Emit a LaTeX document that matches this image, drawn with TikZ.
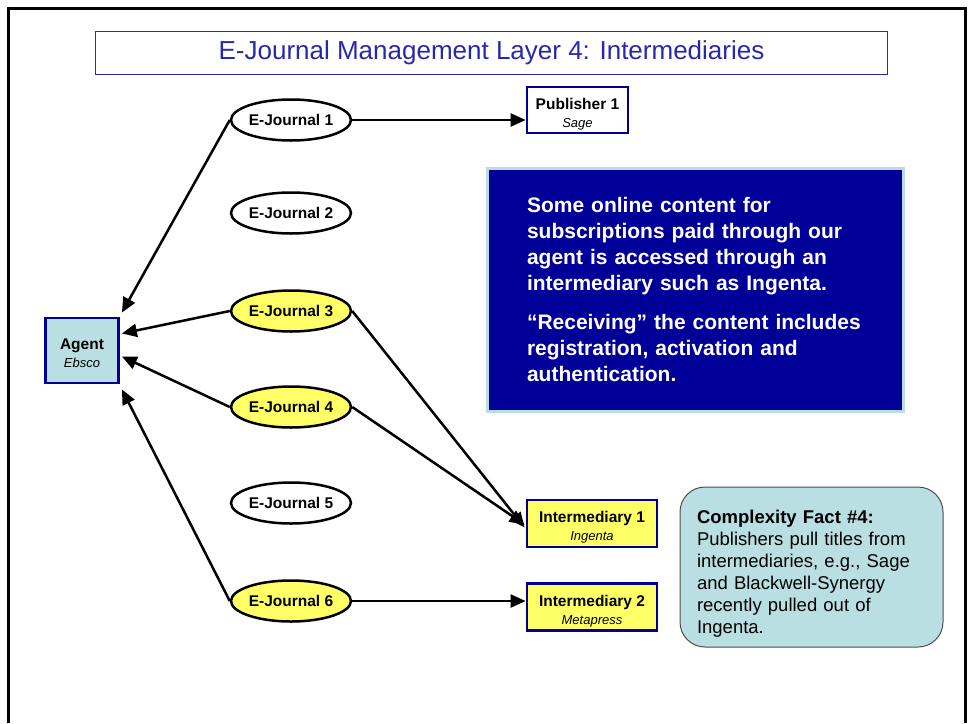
\documentclass[tikz,border=0pt]{standalone}
\usepackage{fontspec}
\setmainfont{Liberation Sans}
\usepackage{xcolor}
\usepackage{tikz}
\usetikzlibrary{shapes.geometric,arrows.meta}

\definecolor{titleblue}{RGB}{40,40,170}
\definecolor{boxblue}{RGB}{0,0,153}
\definecolor{paleblue}{RGB}{185,223,227}
\definecolor{paleyellow}{RGB}{255,255,102}

\newcommand{\firm}[1]{\\[0pt]{\fontsize{13}{15}\selectfont\mdseries\itshape #1}}

\begin{document}
\begin{tikzpicture}[x=1pt,y=-1pt,
    journal/.style={draw,ellipse,line width=2.5pt,minimum width=120pt,minimum height=41pt,inner sep=0pt,
      font=\fontsize{15.5}{18}\selectfont\bfseries},
    site/.style={draw=boxblue,rectangle,line width=2.8pt,inner sep=0pt,align=center,
      font=\fontsize{15.5}{18}\selectfont\bfseries},
    feed/.style={line width=2.5pt,-{Triangle[length=15pt,width=13pt]}}]
    \useasboundingbox (0,0) rectangle (969,723);
    \draw[line width=3pt] (8,723) -- (8,8) -- (965,8) -- (965,723);
    \node[draw=titleblue,line width=1pt,minimum width=792pt,minimum height=43pt,text=titleblue,
      font=\fontsize{26}{30}\selectfont] (title) at (491.5,52.5) {E-Journal Management Layer 4: Intermediaries};

    \node[journal] (j1) at (291,120) {E-Journal 1};
    \node[journal] (j2) at (291,213) {E-Journal 2};
    \node[journal,fill=paleyellow] (j3) at (291,311) {E-Journal 3};
    \node[journal,fill=paleyellow] (j4) at (291,407) {E-Journal 4};
    \node[journal] (j5) at (291,503) {E-Journal 5};
    \node[journal,fill=paleyellow] (j6) at (291,601) {E-Journal 6};

    \node[site,fill=paleblue,minimum width=73pt,minimum height=65pt] (agent) at (82,350.5)
      {\rule{0pt}{17pt}Agent\firm{Ebsco}};
    \node[site,fill=white,minimum width=101pt,minimum height=46pt] (pub1) at (577.5,110)
      {\rule{0pt}{19pt}Publisher 1\firm{Sage}};
    \node[site,fill=paleyellow,minimum width=130pt,minimum height=47pt] (int1) at (592,523.5)
      {\rule{0pt}{19pt}Intermediary 1\firm{Ingenta}};
    \node[site,fill=paleyellow,minimum width=130pt,minimum height=47pt] (int2) at (592,607)
      {\rule{0pt}{19pt}Intermediary 2\firm{Metapress}};

    \node[draw=paleblue,fill=boxblue,line width=3pt,minimum width=416pt,minimum height=243pt,
      text=white,text width=336pt,align=left,inner xsep=40pt,
      font=\fontsize{21}{26}\selectfont\bfseries] (note) at (695,289.5)
      {Some online content for\\subscriptions paid through our\\agent is accessed through an\\intermediary such as Ingenta.\\[13pt]
       ``Receiving'' the content includes\\registration, activation and\\authentication.};
    \node[draw=black!70,fill=paleblue,line width=1pt,rounded corners=25pt,minimum width=263pt,minimum height=160pt,
      text width=229pt,align=left,inner xsep=17pt,font=\fontsize{18.5}{22}\selectfont] (fact) at (811.5,567)
      {\rule{0pt}{27pt}\textbf{Complexity Fact \#4:}\\Publishers pull titles from\\intermediaries, e.g., Sage\\and Blackwell-Synergy\\recently pulled out of\\Ingenta.};

    \draw[feed] (j1.east) -- (j1.east -| pub1.west);
    \draw[feed] (j1.west) -- ([xshift=2pt,yshift=4pt]agent.north east);
    \draw[feed] (j3.west) -- ([xshift=2pt,yshift=17pt]agent.east);
    \draw[feed] (j4.west) -- ([xshift=2pt,yshift=-6pt]agent.east);
    \draw[feed] (j6.west) -- ([xshift=2pt,yshift=-5pt]agent.south east);
    \draw[feed] (j3.east) -- ([xshift=-1pt,yshift=-4pt]int1.west);
    \draw[feed] (j4.east) -- ([xshift=-1pt,yshift=-1pt]int1.west);
    \draw[feed] (j6.east) -- (j6.east -| int2.west);
\end{tikzpicture}
\end{document}
